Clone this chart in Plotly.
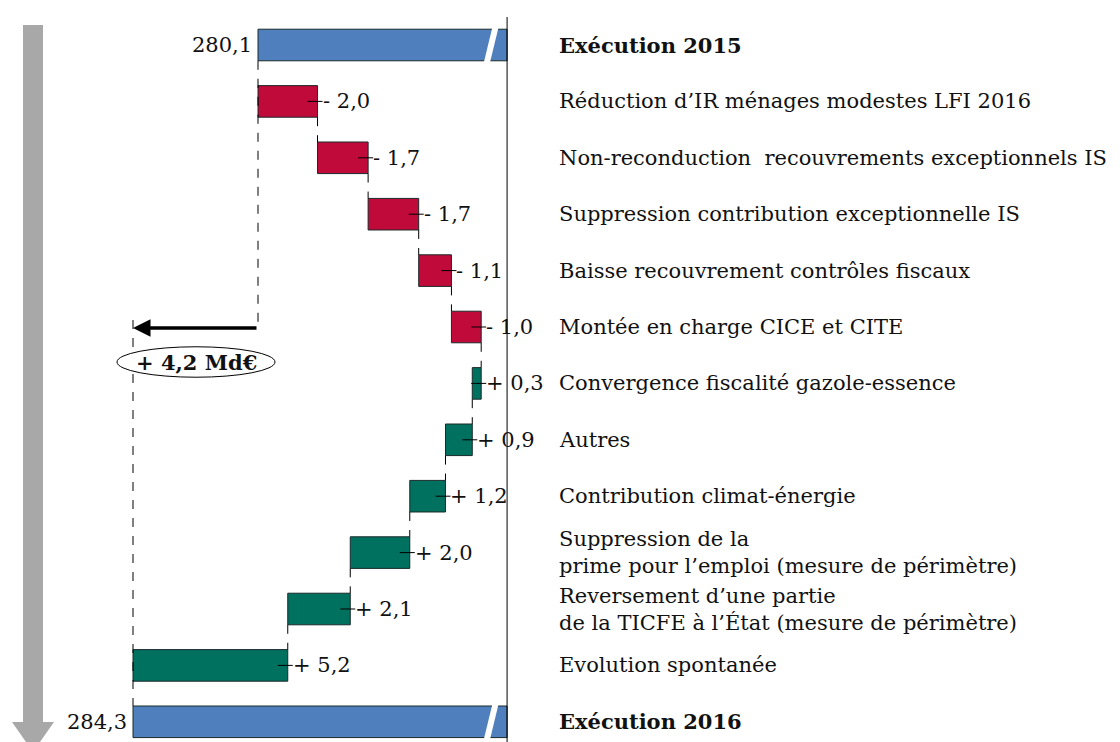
import plotly.graph_objects as go

# ---------------- data ----------------
start_label = "Exécution 2015"
end_label = "Exécution 2016"
start_value = 280.1
end_value = 284.3
change_labels = [
    "Réduction d’IR ménages modestes LFI 2016",
    "Non-reconduction  recouvrements exceptionnels IS",
    "Suppression contribution exceptionnelle IS",
    "Baisse recouvrement contrôles fiscaux",
    "Montée en charge CICE et CITE",
    "Convergence fiscalité gazole-essence",
    "Autres",
    "Contribution climat-énergie",
    "Suppression de la<br>prime pour l’emploi (mesure de périmètre)",
    "Reversement d’une partie<br>de la TICFE à l’État (mesure de périmètre)",
    "Evolution spontanée",
]
change_values = [-2.0, -1.7, -1.7, -1.1, -1.0, 0.3, 0.9, 1.2, 2.0, 2.1, 5.2]
total_text = "Md€"

# ---------------- layout parameters ----------------
W, H = 1120, 742
OFF = 8                 # page body margin offset of the figure
PX_PER_UNIT = 29.76
X_REF_PX = 258          # screen pixel of start_value
ROW0_PX = 45
ROW_STEP = 56.4
AXIS_BREAK = 271.73     # right end of total bars (axis break)
BAR_W = 0.56

def v_of_px(p):
    return start_value - (p - X_REF_PX) / PX_PER_UNIT

def row_of_px(p):
    return (p - ROW0_PX) / ROW_STEP

RED = "#C00A3A"
TEAL = "#00705F"
BLUE = "#4F7FBD"
EDGE = "#1a2a2a"
FONT = "DejaVu Serif"
FS = 21

n = len(change_values)
rows_change = list(range(1, n + 1))
row_end = n + 1

starts, ends = [], []
cur = start_value
for v in change_values:
    starts.append(cur)
    cur = cur + v
    ends.append(cur)

fig = go.Figure()

# total bars
fig.add_trace(go.Bar(
    orientation="h",
    y=[0, row_end],
    base=[start_value, end_value],
    x=[AXIS_BREAK - start_value, AXIS_BREAK - end_value],
    width=BAR_W,
    marker=dict(color=BLUE, line=dict(color=EDGE, width=1)),
    hoverinfo="skip",
))
# change bars
fig.add_trace(go.Bar(
    orientation="h",
    y=rows_change,
    base=starts,
    x=change_values,
    width=BAR_W,
    marker=dict(color=[RED if v < 0 else TEAL for v in change_values],
                line=dict(color=EDGE, width=1)),
    hoverinfo="skip",
))

shapes = []
annotations = []

# dashed connectors
for i in range(1, n):
    r = rows_change[i]
    shapes.append(dict(type="line", xref="x", yref="y",
                       x0=starts[i], x1=starts[i],
                       y0=r - 1 + BAR_W / 2, y1=r - BAR_W / 2,
                       line=dict(color="black", width=1, dash="dash")))

arrow_row = row_of_px(328)
# long dashed lines to arrow
shapes.append(dict(type="line", xref="x", yref="y",
                   x0=start_value, x1=start_value,
                   y0=BAR_W / 2, y1=arrow_row,
                   line=dict(color="black", width=1, dash="dash")))
shapes.append(dict(type="line", xref="x", yref="y",
                   x0=end_value, x1=end_value,
                   y0=row_of_px(320), y1=row_end - BAR_W / 2,
                   line=dict(color="black", width=1, dash="dash")))

# small crosses at right edge of change bars + value labels
for i, v in enumerate(change_values):
    edge_v = min(starts[i], ends[i])
    r = rows_change[i]
    shapes.append(dict(type="line", xref="x", yref="y", xsizemode="pixel",
                       xanchor=edge_v, x0=-10, x1=5, y0=r, y1=r,
                       line=dict(color="black", width=1)))
    txt = ("+ " if v > 0 else "- ") + f"{abs(v):.1f}".replace(".", ",")
    annotations.append(dict(x=edge_v, y=r, xref="x", yref="y", text=txt,
                            showarrow=False, xanchor="left", xshift=3,
                            font=dict(family=FONT, size=FS, color="#111")))

# total value labels
for val, r in [(start_value, 0), (end_value, row_end)]:
    annotations.append(dict(x=val, y=r, xref="x", yref="y",
                            text=f"{val:.1f}".replace(".", ","),
                            showarrow=False, xanchor="right", xshift=-4,
                            font=dict(family=FONT, size=FS, color="#111")))

# right-side labels
label_x = v_of_px(557)
all_labels = [(f"<b>{start_label}</b>", 0)] + \
             [(t, r) for t, r in zip(change_labels, rows_change)] + \
             [(f"<b>{end_label}</b>", row_end)]
for t, r in all_labels:
    annotations.append(dict(x=label_x, y=r, xref="x", yref="y", text=t,
                            showarrow=False, xanchor="left", align="left",
                            font=dict(family=FONT, size=FS, color="#111")))

# axis-break marks
for r in [0, row_end]:
    shapes.append(dict(type="line", xref="x", yref="y",
                       x0=v_of_px(485), x1=v_of_px(498),
                       y0=r + 0.45, y1=r - 0.5,
                       line=dict(color="white", width=6)))

# right vertical line
shapes.append(dict(type="line", xref="x", yref="y",
                   x0=AXIS_BREAK, x1=AXIS_BREAK,
                   y0=row_of_px(17), y1=row_of_px(H + 20),
                   line=dict(color="black", width=1)))

# ellipse with total change
ell_r = row_of_px(362)
shapes.append(dict(type="circle", xref="x", yref="y",
                   x0=v_of_px(117), x1=v_of_px(275),
                   y0=ell_r - 0.27, y1=ell_r + 0.27,
                   fillcolor="white", line=dict(color="black", width=1)))
delta = end_value - start_value
annotations.append(dict(x=(v_of_px(117) + v_of_px(275)) / 2, y=ell_r,
                        xref="x", yref="y",
                        text="<b>" + ("+ " if delta > 0 else "- ") +
                             f"{abs(delta):.1f}".replace(".", ",") + " " + total_text + "</b>",
                        showarrow=False,
                        font=dict(family=FONT, size=FS, color="#111")))

# arrow from start to end value
annotations.append(dict(x=end_value, y=arrow_row, ax=start_value, ay=arrow_row,
                        xref="x", yref="y", axref="x", ayref="y",
                        text="", showarrow=True, arrowhead=2, arrowsize=1,
                        arrowwidth=3.5, arrowcolor="black"))

# big gray arrow on the left (in data coords built from screen pixels)
def gx(p):
    return v_of_px(p)

def gy(p):
    return row_of_px(p)

gray_path = (f"M {gx(23)} {gy(25)} L {gx(43)} {gy(25)} L {gx(43)} {gy(722)} "
             f"L {gx(54)} {gy(722)} L {gx(33)} {gy(752)} L {gx(12)} {gy(722)} "
             f"L {gx(23)} {gy(722)} Z")
shapes.append(dict(type="path", xref="x", yref="y", path=gray_path,
                   fillcolor="#A8A8A8", line=dict(width=0), layer="below"))

fig.update_layout(
    width=W, height=H,
    margin=dict(l=0, r=0, t=0, b=0),
    paper_bgcolor="white", plot_bgcolor="white",
    showlegend=False,
    barmode="overlay",
    xaxis=dict(range=[v_of_px(OFF), v_of_px(W + OFF)], visible=False, fixedrange=True),
    yaxis=dict(range=[row_of_px(H + OFF), row_of_px(OFF)], visible=False, fixedrange=True),
    shapes=shapes,
    annotations=annotations,
)

fig.write_html("out.html")
